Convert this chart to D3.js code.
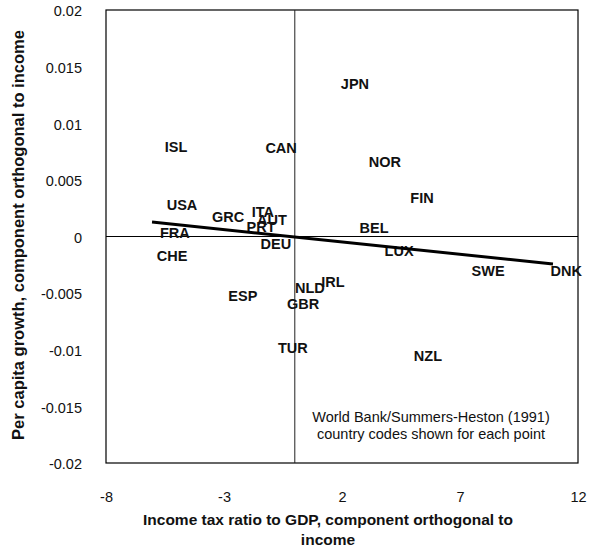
<!DOCTYPE html>
<html><head><meta charset="utf-8">
<script src="https://cdn.jsdelivr.net/npm/d3@7"></script>
<style>body{margin:0;background:#fff}svg{display:block}text{font-family:Arial,"Liberation Sans",sans-serif}</style>
</head><body>
<script>
const codes = ["JPN","ISL","CAN","NOR","FIN","USA","GRC","ITA","AUT","PRT","FRA","BEL","DEU","LUX","CHE","SWE","DNK","IRL","NLD","ESP","GBR","TUR","NZL"];
const taxX  = [2.55,-5.03,-0.58,3.82,5.39,-4.78,-2.83,-1.35,-0.97,-1.43,-5.08,3.36,-0.8,4.42,-5.2,8.19,11.5,1.62,0.64,-2.2,0.35,-0.08,5.64];
const growthY = [0.0135,0.0079,0.0078,0.0066,0.0034,0.0028,0.0017,0.0022,0.0015,0.0009,0.0003,0.0008,-0.0006,-0.0013,-0.0017,-0.003,-0.003,-0.004,-0.0045,-0.0052,-0.0059,-0.0098,-0.0105];
const fitX = [-6.05, 10.94];
const fitY = [0.00128, -0.00243];
const xTicks = [-8,-3,2,7,12];
const yTicks = [0.02,0.015,0.01,0.005,0,-0.005,-0.01,-0.015,-0.02];
const yTitle = "Per capita growth, component orthogonal to income";
const xTitle = ["Income tax ratio to GDP, component orthogonal to","income"];
const note = ["World Bank/Summers-Heston (1991)","country codes shown for each point"];

const W=590,H=556, L=106,R=578,T=10,B=463;
const svg=d3.select("body").append("svg").attr("width",W).attr("height",H);
const x=d3.scaleLinear().domain([-8,12]).range([L,R]);
const y=d3.scaleLinear().domain([-0.02,0.02]).range([B,T]);

svg.append("rect").attr("x",L).attr("y",T).attr("width",R-L).attr("height",B-T)
  .attr("fill","none").attr("stroke","#000").attr("stroke-width",1.2);
svg.append("line").attr("x1",x(0)).attr("x2",x(0)).attr("y1",T).attr("y2",B).attr("stroke","#222").attr("stroke-width",1);
svg.append("line").attr("x1",L).attr("x2",R).attr("y1",y(0)).attr("y2",y(0)).attr("stroke","#000").attr("stroke-width",1.2);

const xa=svg.append("g").attr("transform",`translate(0,${B})`)
  .call(d3.axisBottom(x).tickValues(xTicks).tickSize(0).tickPadding(29).tickFormat(d=>d));
const ya=svg.append("g").attr("transform",`translate(${L},0)`)
  .call(d3.axisLeft(y).tickValues(yTicks).tickSize(0).tickPadding(24).tickFormat(d=>d));
[xa,ya].forEach(a=>{a.select(".domain").remove();a.selectAll("text").attr("font-size",14.5).attr("font-family","Arial, 'Liberation Sans', sans-serif").attr("fill","#111");});
ya.selectAll("text").attr("dy","0.4em");

svg.append("g").selectAll("text").data(codes).join("text")
  .attr("x",(d,i)=>x(taxX[i])).attr("y",(d,i)=>y(growthY[i]))
  .attr("text-anchor","middle").attr("dy","0.36em")
  .attr("font-size",14.5).attr("font-weight","bold").attr("fill","#111").text(d=>d);

svg.append("line").attr("x1",x(fitX[0])).attr("y1",y(fitY[0])).attr("x2",x(fitX[1])).attr("y2",y(fitY[1]))
  .attr("stroke","#000").attr("stroke-width",3);

svg.append("g").selectAll("text").data(note).join("text")
  .attr("x",431).attr("y",(d,i)=>422+i*17).attr("text-anchor","middle")
  .attr("font-size",14.5).attr("fill","#111").text(d=>d);

svg.append("text").attr("transform","translate(24,235) rotate(-90)").attr("text-anchor","middle")
  .attr("font-size",16.5).attr("font-weight","bold").attr("fill","#111").text(yTitle);
svg.append("g").selectAll("text").data(xTitle).join("text")
  .attr("x",328).attr("y",(d,i)=>525+i*20).attr("text-anchor","middle")
  .attr("font-size",15.5).attr("font-weight","bold").attr("fill","#111").text(d=>d);
</script>
</body></html>
